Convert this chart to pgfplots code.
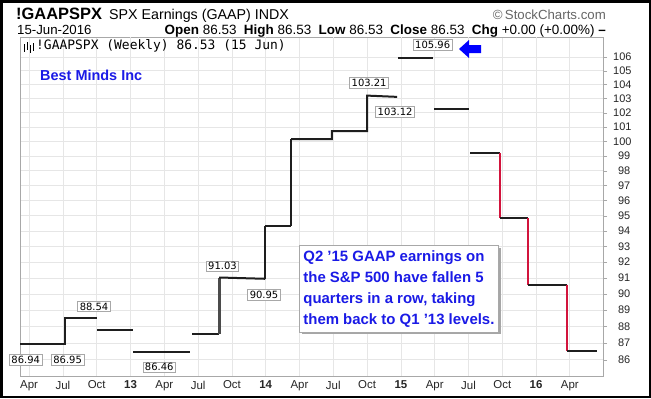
\documentclass[border=0pt]{standalone}
\usepackage{fontspec}
\setmainfont{Liberation Sans}
\newfontfamily\verdana{DejaVu Sans}
\newfontfamily\monof{DejaVu Sans Mono}
\usepackage{pgfplots}
\pgfplotsset{compat=1.18}
\usetikzlibrary{shadows}
\definecolor{gridc}{HTML}{E6E6E6}
\definecolor{gridd}{HTML}{D0D0D0}
\definecolor{lineblk}{HTML}{1E1E1E}
\definecolor{linered}{HTML}{D2143C}
\definecolor{txtblue}{HTML}{1A1AE6}
\definecolor{boxgray}{HTML}{A8A8A8}
\newcommand{\fs}[1]{\fontsize{#1}{#1}\selectfont}
\begin{document}
\begin{tikzpicture}[x=1bp,y=1bp]
\path[use as bounding box] (0,0) rectangle (651,-398);
\fill[white] (0,0) rectangle (651,-398);
% header
\node[anchor=base west, inner sep=0] at (16,-19) {\fs{16.5}\bfseries !GAAPSPX};
\node[anchor=base west, inner sep=0] at (109,-19) {\fs{14.3}SPX Earnings (GAAP) INDX};
\node[anchor=base east, inner sep=0, text=black!60] at (606,-19) {\fs{13.3}\textcopyright\,StockCharts.com};
\node[anchor=base west, inner sep=0] at (17,-34) {\fs{13.3}15-Jun-2016};
\node[anchor=base east, inner sep=0] at (606,-34) {\fs{13.5}\textbf{Open} 86.53\ \ \textbf{High} 86.53\ \ \textbf{Low} 86.53\ \ \textbf{Close} 86.53\ \ \textbf{Chg} +0.00 (+0.00\%) \textbf{--}};
\begin{axis}[at={(20bp,-376bp)}, anchor=south west, scale only axis,
  width=583bp, height=339bp,
  xmin=-0.27, xmax=16.98, ymode=log, ymin=85.05, ymax=107.48,
  axis line style={color=boxgray},
  xtick={0,1,...,16},
  xticklabels={Apr,Jul,Oct,\textbf{13},Apr,Jul,Oct,\textbf{14},Apr,Jul,Oct,\textbf{15},Apr,Jul,Oct,\textbf{16},Apr},
  ytick={86,87,...,106},
  yticklabels={86,87,88,89,90,91,92,93,94,95,96,97,98,99,100,101,102,103,104,105,106},
  grid=major, major grid style={gridc, line width=0.8bp},
  yticklabel pos=right, ytick pos=right,
  xtick style={draw=none},
  ytick style={draw=boxgray},
  tick align=outside, major tick length=4bp,
  ticklabel style={font=\fs{11}, text=black!85},
  xticklabel style={yshift=2.5bp, font=\fs{11.5}},
  yticklabel style={text width=17bp, align=right, inner sep=0pt, xshift=6bp},
  extra x ticks={1,3,5,7,9,11,13,15}, extra x tick labels={},
  extra x tick style={grid style={gridd, line width=0.8bp}, tick style={draw=none}},
  clip=false,
]
\addplot[lineblk, line width=2bp] coordinates {(-0.27,86.94) (1.07,86.94) (1.07,88.54) (2.01,88.54)};
\addplot[lineblk, line width=2bp] coordinates {(2.01,87.81) (3.08,87.81)};
\addplot[lineblk, line width=2bp] coordinates {(3.08,86.46) (4.76,86.46)};
\addplot[lineblk, line width=2bp] coordinates {(4.82,87.56) (5.62,87.56)};
\addplot[lineblk!80, line width=3bp] coordinates {(5.62,87.56) (5.62,91.03)};
\addplot[lineblk, line width=2bp] coordinates {(5.62,91.03) (6.98,90.95)};
\addplot[lineblk, line width=2.5bp] coordinates {(6.98,90.95) (6.98,94.30)};
\addplot[lineblk, line width=2bp] coordinates {(6.98,94.30) (7.75,94.30)};
\addplot[lineblk, line width=2.5bp] coordinates {(7.75,94.30) (7.75,100.15)};
\addplot[lineblk, line width=2bp] coordinates {(7.75,100.15) (8.96,100.15) (8.96,100.71) (10.0,100.71) (10.0,103.21) (10.89,103.12)};
\addplot[lineblk, line width=2bp] coordinates {(10.92,105.96) (11.95,105.96)};
\addplot[lineblk, line width=2bp] coordinates {(11.98,102.26) (13.02,102.26)};
\addplot[lineblk, line width=2bp] coordinates {(13.05,99.18) (13.93,99.18)};
\addplot[linered, line width=2bp] coordinates {(13.93,99.18) (13.93,94.82)};
\addplot[lineblk, line width=2bp] coordinates {(13.93,94.82) (14.76,94.82)};
\addplot[linered, line width=2bp] coordinates {(14.76,94.82) (14.76,90.58)};
\addplot[lineblk, line width=2bp] coordinates {(14.76,90.58) (15.92,90.58)};
\addplot[linered, line width=2bp] coordinates {(15.92,90.58) (15.92,86.53)};
\addplot[lineblk, line width=2bp] coordinates {(15.92,86.53) (16.80,86.53)};
\tikzset{vlab/.style={fill=white, draw=boxgray, line width=0.6bp, inner xsep=2bp, inner ysep=1.5bp, font=\verdana\fs{10}}}
\node[vlab] at (axis cs:-0.10,86.00) {86.94};
\node[vlab] at (axis cs:1.14,86.00) {86.95};
\node[vlab] at (axis cs:1.92,89.23) {88.54};
\node[vlab] at (axis cs:3.85,85.57) {86.46};
\node[vlab] at (axis cs:5.72,91.74) {91.03};
\node[vlab] at (axis cs:6.95,89.96) {90.95};
\node[vlab] at (axis cs:10.06,104.11) {103.21};
\node[vlab] at (axis cs:10.83,102.06) {103.12};
\node[vlab] at (axis cs:11.94,106.91) {105.96};
\end{axis}
% legend row
\draw[black, line width=1bp] (24,-44) -- (24,-52) (27,-42) -- (27,-50) (30,-45) -- (30,-53) (33,-43) -- (33,-51);
\node[anchor=base west, inner sep=0] at (36,-49) {\monof\fs{13}!GAAPSPX (Weekly) 86.53 (15 Jun)};
% company
\node[anchor=base west, inner sep=0, text=txtblue] at (40,-80) {\fs{14.5}\bfseries Best Minds Inc};
% arrow
\fill[blue] (459,-49) -- (469,-40) -- (469,-45) -- (481,-45) -- (481,-53) -- (469,-53) -- (469,-58) -- cycle;
% text box
\node[anchor=north west, draw=boxgray, fill=white, line width=0.8bp,
  drop shadow={shadow xshift=2.5bp, shadow yshift=-2.5bp, fill=black!35, opacity=1},
  text=txtblue, align=left, inner xsep=4bp, inner ysep=5bp,
  font=\fontsize{15}{21}\selectfont\bfseries] at (299,-245)
  {Q2 '15 GAAP earnings on\\the S\&P 500 have fallen 5\\quarters in a row, taking\\them back to Q1 '13 levels.};
% frame
\draw[black, line width=2.5bp] (1.25,-1.25) rectangle (649.75,-396.75);
\end{tikzpicture}
\end{document}
